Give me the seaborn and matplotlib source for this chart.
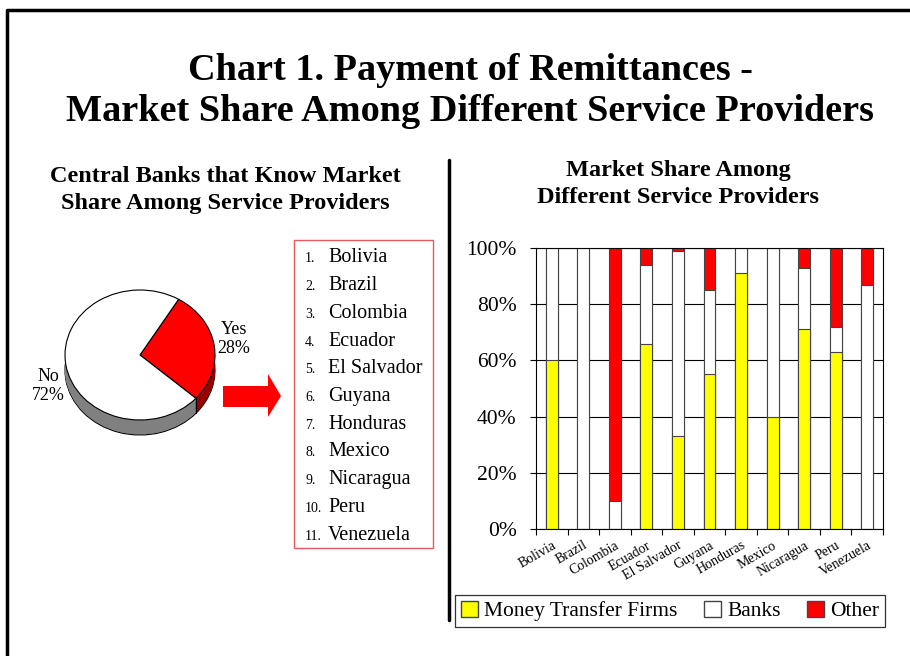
import numpy as np
import matplotlib
matplotlib.use("Agg")
import matplotlib.pyplot as plt
import matplotlib.patches as mpatches
from matplotlib.lines import Line2D
import seaborn as sns

# --- data ---
countries = ["Bolivia", "Brazil", "Colombia", "Ecuador", "El Salvador", "Guyana",
             "Honduras", "Mexico", "Nicaragua", "Peru", "Venezuela"]
money_transfer = [60, 0, 0, 66, 33, 55, 91, 40, 71, 63, 0]
banks = [40, 100, 10, 28, 66, 30, 9, 60, 22, 9, 87]
other = [0, 0, 90, 6, 1, 15, 0, 0, 7, 28, 13]

pie_labels = ["Yes", "No"]
pie_values = [28, 72]

W, H = 910, 656

sns.set_theme(style="white")
plt.rcParams["font.family"] = ["Liberation Serif", "DejaVu Serif"]
plt.rcParams["text.color"] = "black"
plt.rcParams["xtick.color"] = "black"
plt.rcParams["ytick.color"] = "black"
plt.rcParams["axes.labelcolor"] = "black"

fig = plt.figure(figsize=(W / 100, H / 100), dpi=100)


def fx(px):
    return px / W


def fy(py):
    return 1 - py / H


def px_axes(x0, y0, x1, y1):
    # axes from pixel box (top-left origin)
    return fig.add_axes([fx(x0), fy(y1), (x1 - x0) / W, (y1 - y0) / H])


# frame lines (top and left)
fig.add_artist(Line2D([fx(7), fx(7), fx(912)], [fy(660), fy(10), fy(10)],
                      transform=fig.transFigure, color="black", lw=2.5))
# divider
fig.add_artist(Line2D([fx(449), fx(449)], [fy(160), fy(620)],
                      transform=fig.transFigure, color="black", lw=2.5))

# titles
fig.text(fx(470), fy(91), "Chart 1. Payment of Remittances -\nMarket Share Among Different Service Providers",
         ha="center", va="center", fontsize=27.5, fontweight="bold", linespacing=1.2)
fig.text(fx(225), fy(190), "Central Banks that Know Market\nShare Among Service Providers",
         ha="center", va="center", fontsize=17.5, fontweight="bold", linespacing=1.4)
fig.text(fx(678), fy(184), "Market Share Among\nDifferent Service Providers",
         ha="center", va="center", fontsize=17.5, fontweight="bold", linespacing=1.35)

# --- 3D-looking pie ---
pax = px_axes(20, 270, 260, 440)
depth = 15 / 65
start = 59
side_colors = ["#990000", "#808080"]
n_layers = 25
for i, d in enumerate(np.linspace(depth, 0.0, n_layers)):
    ec = "black" if i == 0 else "none"
    pax.pie(pie_values, colors=side_colors, startangle=start, counterclock=False,
            center=(0, -d), wedgeprops=dict(edgecolor=ec, linewidth=0.8))
theta = np.deg2rad(start - 360 * pie_values[0] / 100)
pax.plot([np.cos(theta), np.cos(theta)], [np.sin(theta), np.sin(theta) - depth],
         color="black", lw=0.8)
pax.pie(pie_values, colors=["#ff0000", "white"], startangle=start, counterclock=False,
        wedgeprops=dict(edgecolor="black", linewidth=0.8))
pax.set_aspect("auto")
pax.set_xlim(-1.6, 1.6)
pax.set_ylim(-85 / 65, 85 / 65)
pax.axis("off")

fig.text(fx(234), fy(339), f"{pie_labels[0]}\n{pie_values[0]}%", ha="center", va="center",
         fontsize=13, linespacing=1.15)
fig.text(fx(48), fy(386), f"{pie_labels[1]}\n{pie_values[1]}%", ha="center", va="center",
         fontsize=13, linespacing=1.15)

# arrow
arrow = mpatches.Polygon(
    [(fx(223), fy(386)), (fx(268), fy(386)), (fx(268), fy(374)), (fx(281), fy(396)),
     (fx(268), fy(417)), (fx(268), fy(407)), (fx(223), fy(407))],
    closed=True, transform=fig.transFigure, facecolor="#ff0000", edgecolor="none")
fig.add_artist(arrow)

# country list box
fig.add_artist(mpatches.Rectangle((fx(294), fy(548)), (433 - 294) / W, (548 - 240) / H,
                                  transform=fig.transFigure, facecolor="none",
                                  edgecolor="#e85a5a", lw=1))
for i, c in enumerate(countries):
    y = 258 + i * 27.7
    fig.text(fx(305), fy(y + 1), f"{i + 1}.", ha="left", va="center", fontsize=10)
    fig.text(fx(328), fy(y), c, ha="left", va="center", fontsize=14.5)

# --- stacked bars ---
ax = px_axes(536, 248, 883, 529)
tot_mb = [m + b for m, b in zip(money_transfer, banks)]
tot_all = [t + o for t, o in zip(tot_mb, other)]
bar_kw = dict(width=0.38, saturation=1, errorbar=None, edgecolor="#444444", linewidth=0.8, ax=ax)
sns.barplot(x=countries, y=tot_all, color="#ff0000", **bar_kw)
sns.barplot(x=countries, y=tot_mb, color="white", **bar_kw)
sns.barplot(x=countries, y=money_transfer, color="#ffff00", **bar_kw)

ax.set_xlim(-0.5, len(countries) - 0.5)
ax.set_ylim(0, 100)
ax.set_yticks(np.arange(0, 101, 20))
ax.set_yticklabels([f"{v}%" for v in range(0, 101, 20)], fontsize=15.5)
ax.set_xticks(np.arange(-0.5, len(countries), 1), minor=True)
ax.set_xticklabels(countries, rotation=30, ha="right", rotation_mode="anchor", fontsize=10)
ax.tick_params(axis="x", which="major", length=0, pad=7)
ax.tick_params(axis="x", which="minor", length=4, width=0.8, direction="out", color="black", bottom=True)
ax.tick_params(axis="y", length=4, width=0.8, direction="out", color="black", left=True, pad=10)
ax.set_xlabel("")
ax.set_ylabel("")
ax.set_axisbelow(True)
ax.yaxis.grid(True, color="black", lw=0.8)
for s in ax.spines.values():
    s.set_color("black")
    s.set_linewidth(0.8)

handles = [mpatches.Patch(facecolor="#ffff00", edgecolor="#444444", label="Money Transfer Firms"),
           mpatches.Patch(facecolor="white", edgecolor="#444444", label="Banks"),
           mpatches.Patch(facecolor="#ff0000", edgecolor="#444444", label="Other")]
leg = fig.legend(handles=handles, loc="center", bbox_to_anchor=(fx(670), fy(611)), ncol=3,
                 fontsize=15.5, frameon=True, fancybox=False, edgecolor="black",
                 handlelength=0.8, handleheight=0.8, handletextpad=0.3, columnspacing=1.2,
                 borderpad=0.25)
leg.get_frame().set_linewidth(0.9)

fig.savefig("out.png", dpi=100, facecolor="white")
